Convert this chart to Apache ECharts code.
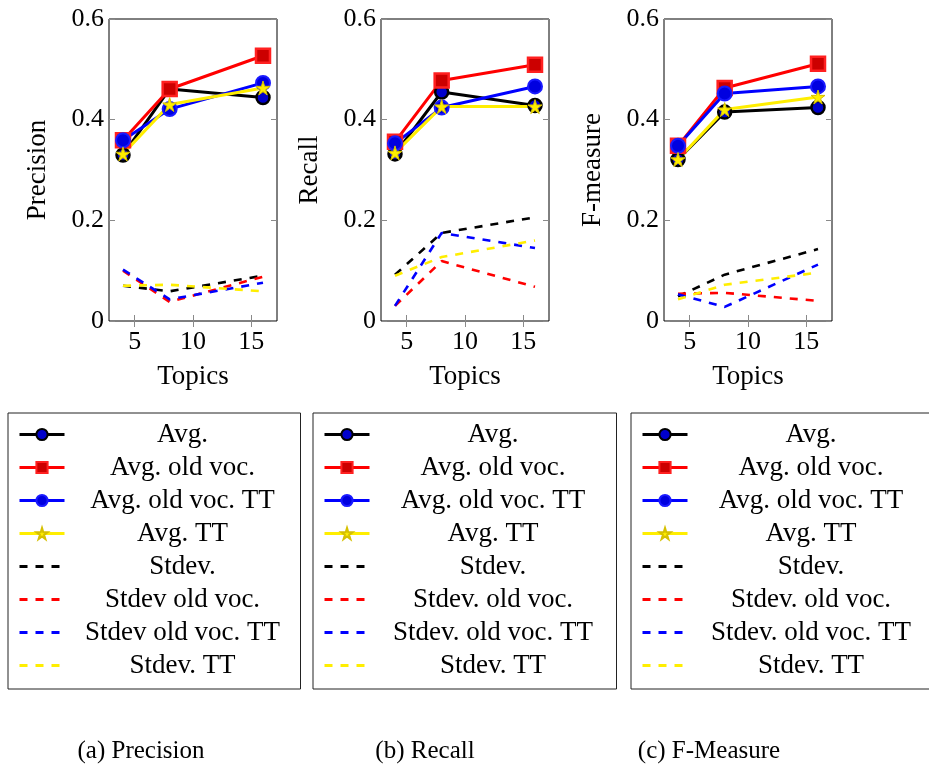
<!DOCTYPE html>
<html><head><meta charset="utf-8">
<script src="https://cdn.jsdelivr.net/npm/echarts@6/dist/echarts.min.js"></script>
<style>html,body{margin:0;padding:0;background:#fff}#c{width:929px;height:764px}</style>
</head><body><div id="c"></div>
<script>
const topics = [4, 8, 16];
const xTicks = [5, 10, 15];
const yTicks = [0, 0.2, 0.4, 0.6];
const panelTitles = ['Precision', 'Recall', 'F-measure'];
const captions = ['(a) Precision', '(b) Recall', '(c) F-Measure'];
const namesA = ['Avg.', 'Avg. old voc.', 'Avg. old voc. TT', 'Avg. TT', 'Stdev.', 'Stdev old voc.', 'Stdev old voc. TT', 'Stdev. TT'];
const namesBC = ['Avg.', 'Avg. old voc.', 'Avg. old voc. TT', 'Avg. TT', 'Stdev.', 'Stdev. old voc.', 'Stdev. old voc. TT', 'Stdev. TT'];

// Precision
const precAvg = [0.330, 0.461, 0.444];
const precAvgOld = [0.359, 0.461, 0.527];
const precAvgOldTT = [0.359, 0.421, 0.473];
const precAvgTT = [0.332, 0.430, 0.463];
const precStd = [0.070, 0.059, 0.090];
const precStdOld = [0.100, 0.038, 0.088];
const precStdOldTT = [0.102, 0.043, 0.076];
const precStdTT = [0.070, 0.072, 0.059];
// Recall
const recAvg = [0.332, 0.455, 0.428];
const recAvgOld = [0.356, 0.478, 0.509];
const recAvgOldTT = [0.353, 0.424, 0.466];
const recAvgTT = [0.334, 0.426, 0.426];
const recStd = [0.092, 0.175, 0.206];
const recStdOld = [0.030, 0.119, 0.068];
const recStdOldTT = [0.030, 0.175, 0.145];
const recStdTT = [0.090, 0.127, 0.160];
// F-measure
const fAvg = [0.321, 0.415, 0.424];
const fAvgOld = [0.348, 0.463, 0.511];
const fAvgOldTT = [0.348, 0.452, 0.466];
const fAvgTT = [0.321, 0.420, 0.445];
const fStd = [0.049, 0.092, 0.143];
const fStdOld = [0.054, 0.056, 0.040];
const fStdOldTT = [0.053, 0.028, 0.112];
const fStdTT = [0.043, 0.072, 0.096];

const panels = [
  [precAvg, precAvgOld, precAvgOldTT, precAvgTT, precStd, precStdOld, precStdOldTT, precStdTT],
  [recAvg, recAvgOld, recAvgOldTT, recAvgTT, recStd, recStdOld, recStdOldTT, recStdTT],
  [fAvg, fAvgOld, fAvgOldTT, fAvgTT, fStd, fStdOld, fStdOldTT, fStdTT]
];

const FONT = '"Liberation Serif", "DejaVu Serif", serif';
const STAR = 'path://M50,0 L61,35 L98,35 L68,57 L79,91 L50,70 L21,91 L32,57 L2,35 L39,35 Z';
const styles = [
  {color: '#000000', symbol: 'circle', symbolSize: 13, item: {color: '#0000cc', borderColor: '#000', borderWidth: 2.5}, dashed: false},
  {color: '#ff0000', symbol: 'rect', symbolSize: 14, item: {color: '#cc0000', borderColor: '#ff2020', borderWidth: 2.5}, dashed: false},
  {color: '#0000ff', symbol: 'circle', symbolSize: 14, item: {color: '#0000e0', borderColor: '#1a1aff', borderWidth: 2}, dashed: false},
  {color: '#ffee00', symbol: STAR, symbolSize: 14, item: {color: '#ffee00', borderColor: '#d6c000', borderWidth: 1}, dashed: false},
  {color: '#000000', dashed: true},
  {color: '#ff0000', dashed: true},
  {color: '#0000ff', dashed: true},
  {color: '#ffee00', dashed: true}
];

const gridLefts = [109, 381, 664];
const gridW = 168;
const legendLefts = [8, 313, 631];
const legendTextW = [226, 237, 237];
const captionX = [136, 420, 704];

const grid = [], xAxis = [], yAxis = [], series = [], legend = [], title = [];
const tickStyle = {show: true, inside: true, length: 6, lineStyle: {color: '#8a8a8a', width: 1}};
for (let p = 0; p < 3; p++) {
  grid.push({left: gridLefts[p], top: 19, width: gridW, height: 302, show: true, borderColor: '#000', borderWidth: 1, backgroundColor: 'transparent'});
  xAxis.push({type: 'value', gridIndex: p, min: 2.8, max: 17.2, position: 'bottom',
    name: 'Topics', nameLocation: 'middle', nameGap: 42, nameTextStyle: {fontFamily: FONT, fontSize: 27, color: '#000'},
    axisLine: {show: false}, splitLine: {show: false},
    axisTick: Object.assign({customValues: xTicks}, tickStyle),
    axisLabel: {customValues: xTicks, fontFamily: FONT, fontSize: 26, color: '#000', margin: 8}});
  xAxis.push({type: 'value', gridIndex: p, min: 2.8, max: 17.2, position: 'top',
    axisLine: {show: false}, splitLine: {show: false},
    axisTick: Object.assign({customValues: xTicks}, tickStyle),
    axisLabel: {show: false}});
  yAxis.push({type: 'value', gridIndex: p, min: 0, max: 0.6, interval: 0.2, position: 'left',
    name: panelTitles[p], nameLocation: 'middle', nameGap: 58, nameRotate: 90,
    nameTextStyle: {fontFamily: FONT, fontSize: 27, color: '#000'},
    axisLine: {show: false}, splitLine: {show: false}, axisTick: tickStyle,
    axisLabel: {fontFamily: FONT, fontSize: 26, color: '#000', margin: 5}});
  yAxis.push({type: 'value', gridIndex: p, min: 0, max: 0.6, interval: 0.2, position: 'right',
    axisLine: {show: false}, splitLine: {show: false}, axisTick: tickStyle, axisLabel: {show: false}});
  const names = p === 0 ? namesA : namesBC;
  for (let s = 0; s < 8; s++) {
    const st = styles[s];
    const ser = {type: 'line', name: names[s], xAxisIndex: 2 * p, yAxisIndex: 2 * p,
      data: topics.map((t, i) => [t, panels[p][s][i]]),
      animation: false, silent: true,
      lineStyle: st.dashed ? {color: st.color, width: 2.6, type: [8, 8]} : {color: st.color, width: 3},
      itemStyle: st.dashed ? {color: st.color} : st.item};
    if (st.dashed) { ser.symbol = 'none'; ser.showSymbol = false; }
    else { ser.symbol = st.symbol; ser.symbolSize = st.symbolSize; ser.showSymbol = true; }
    series.push(ser);
  }
  legend.push({orient: 'vertical', left: legendLefts[p], top: 413,
    data: names.map((n, s) => styles[s].dashed ? {name: n, itemStyle: {opacity: 0}} : {name: n}),
    selectedMode: false, itemWidth: 45, itemHeight: 14, itemGap: 6,
    padding: [8, 5, 10, 10], borderColor: '#222', borderWidth: 1,
    lineStyle: {width: 3},
    formatter: '{t|{name}}',
    textStyle: {fontFamily: FONT, fontSize: 27, color: '#000', lineHeight: 24,
      rich: {t: {width: legendTextW[p], align: 'center', fontFamily: FONT, fontSize: 27, color: '#000', lineHeight: 24}}}});
  title.push({text: captions[p], left: captionX[p], top: 734, textAlign: 'center',
    textStyle: {fontFamily: FONT, fontSize: 25, fontWeight: 'normal', color: '#000'}});
}

const chart = echarts.init(document.getElementById('c'), null, {renderer: 'canvas'});
chart.setOption({animation: false, backgroundColor: '#fff', title, grid, xAxis, yAxis, legend, series});
</script></body></html>
